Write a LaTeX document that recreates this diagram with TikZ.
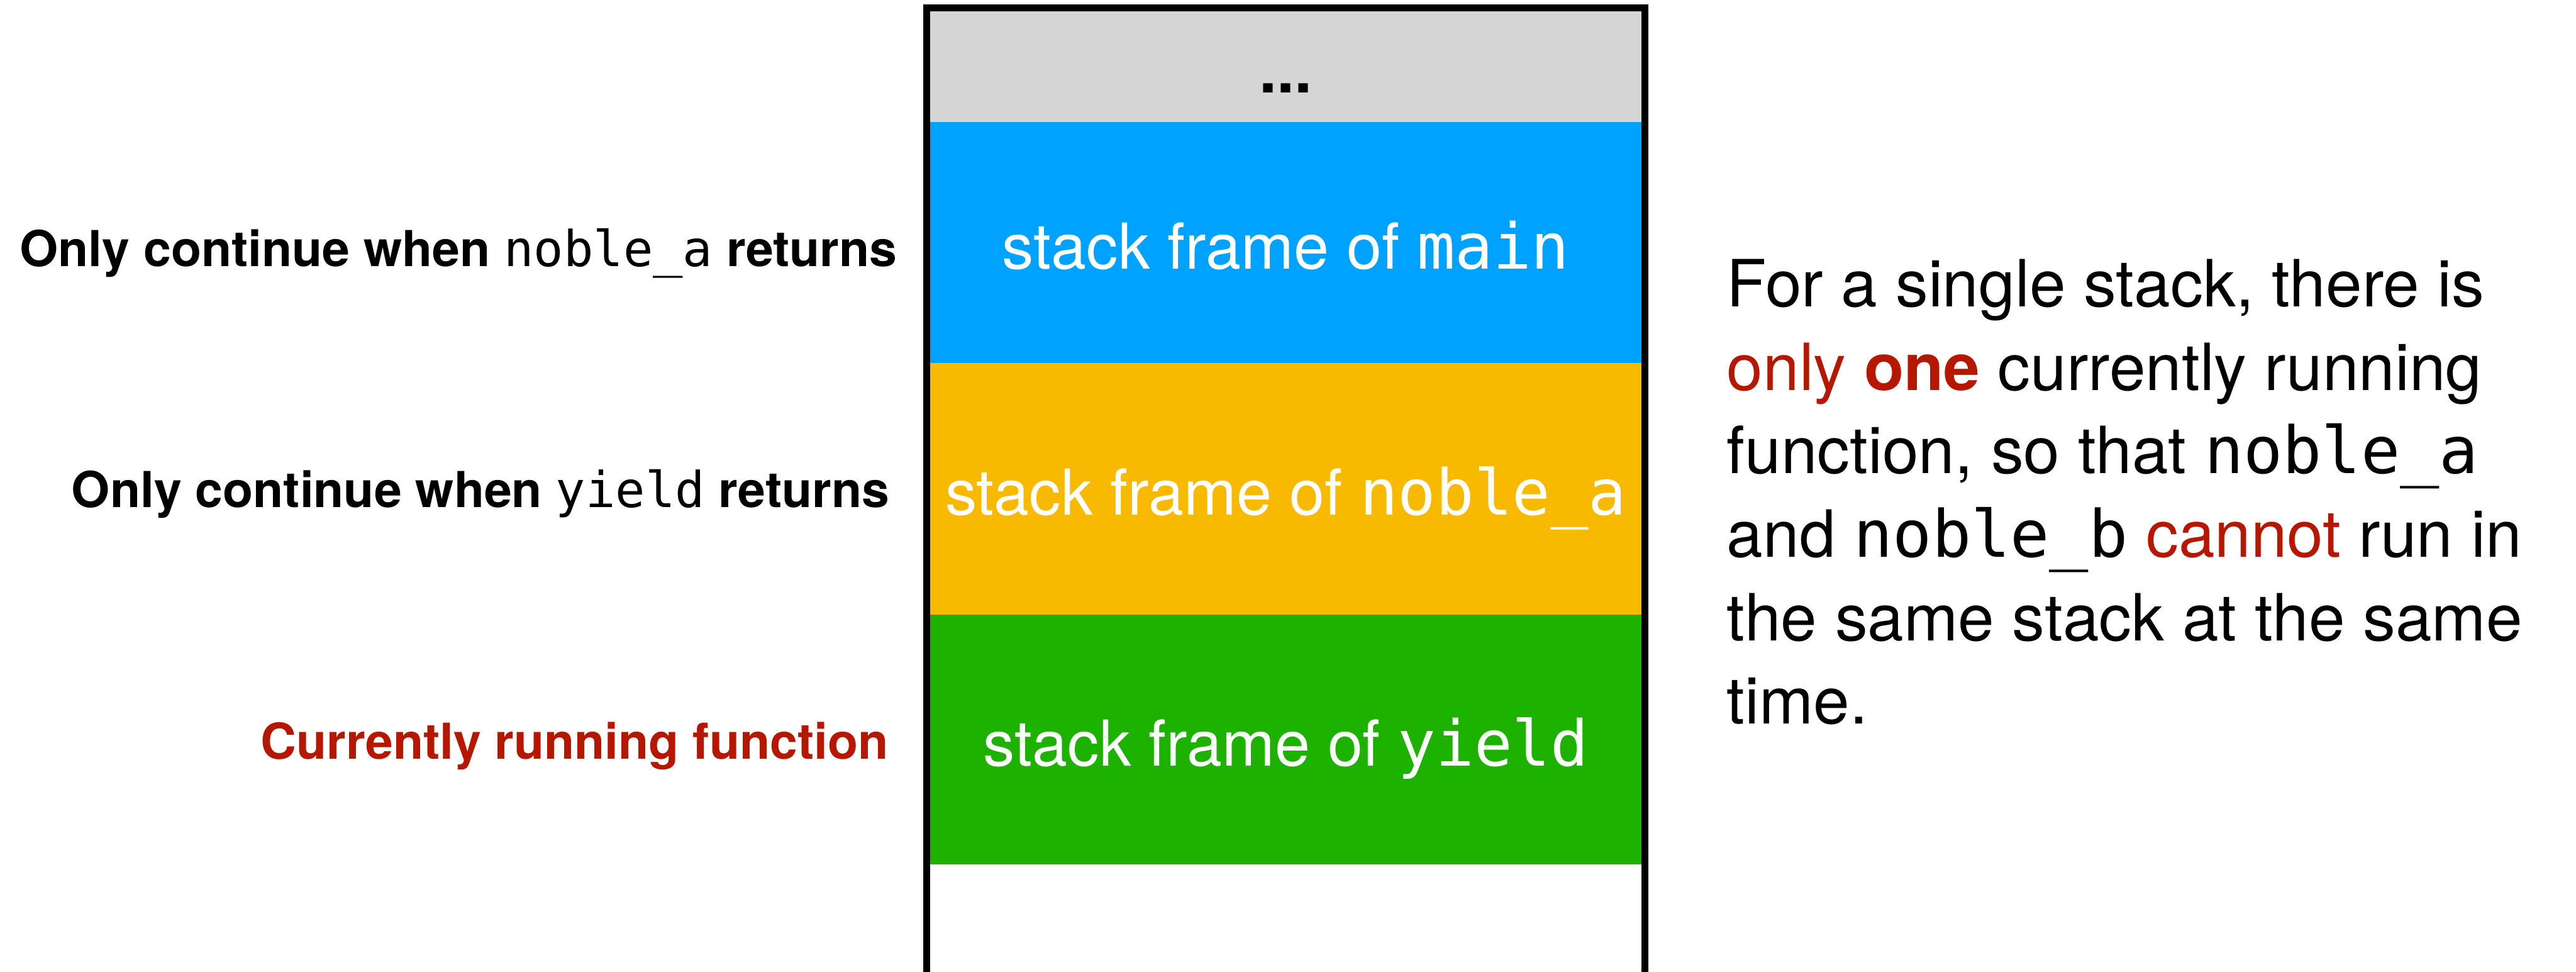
\documentclass[tikz,border=0pt]{standalone}
\usepackage{fontspec}
\setmainfont{TeX Gyre Heros}
\setmonofont{DejaVu Sans Mono}
\usetikzlibrary{positioning}

\definecolor{stackgray}{HTML}{D5D5D5}
\definecolor{mainblue}{HTML}{00A2FF}
\definecolor{nobleyellow}{HTML}{F8BA00}
\definecolor{yieldgreen}{HTML}{1DB100}
\definecolor{keyred}{HTML}{B51700}

\newcommand{\code}[1]{\texttt{\mdseries #1}}

\tikzset{
  band/.style={rectangle, inner sep=0pt, outer sep=0pt, minimum width=13.63cm,
    text height=1cm, text depth=0cm, text=white, font=\fontsize{34.5}{41}\selectfont},
  note/.style={anchor=base east, inner sep=0pt, font=\fontsize{27}{32}\selectfont\bfseries}
}

\begin{document}
\begin{tikzpicture}
    \useasboundingbox (0,0) rectangle (49.37,18.62);
    % the stack, top to bottom
    \node[band, fill=stackgray, text=black, minimum height=2.12cm] (dots) at (24.645,17.34) {\textbf{...}};
    \node[band, fill=mainblue, minimum height=4.62cm, below=0pt of dots] (mainf) {stack frame of \code{main}};
    \node[band, fill=nobleyellow, minimum height=4.82cm, below=0pt of mainf] (noblef) {stack frame of \code{noble\_a}};
    \node[band, fill=yieldgreen, minimum height=4.78cm, below=0pt of noblef] (yieldf) {stack frame of \code{yield}};
    \draw[line width=3.7pt] (17.76,0) |- (24.645,18.465) -| (31.525,0);
    % notes on the left
    \node[note] (waitmain) at (17.20,13.52) {Only continue when \code{noble\_a} returns};
    \node[note] (waitnoble) at (17.05,8.90) {Only continue when \code{yield} returns};
    \node[note, text=keyred] (running) at (17.03,4.08) {Currently running function};
    % remark on the right
    \node[anchor=north west, inner sep=0pt, align=left, font=\fontsize{35.5}{45.5}\selectfont] (remark) at (33.09,13.66)
      {For a single stack, there is\\
       \textcolor{keyred}{only \textbf{one}} currently running\\
       function, so that \code{noble\_a}\\
       and \code{noble\_b} \textcolor{keyred}{cannot} run in\\
       the same stack at the same\\
       time.};
\end{tikzpicture}
\end{document}
